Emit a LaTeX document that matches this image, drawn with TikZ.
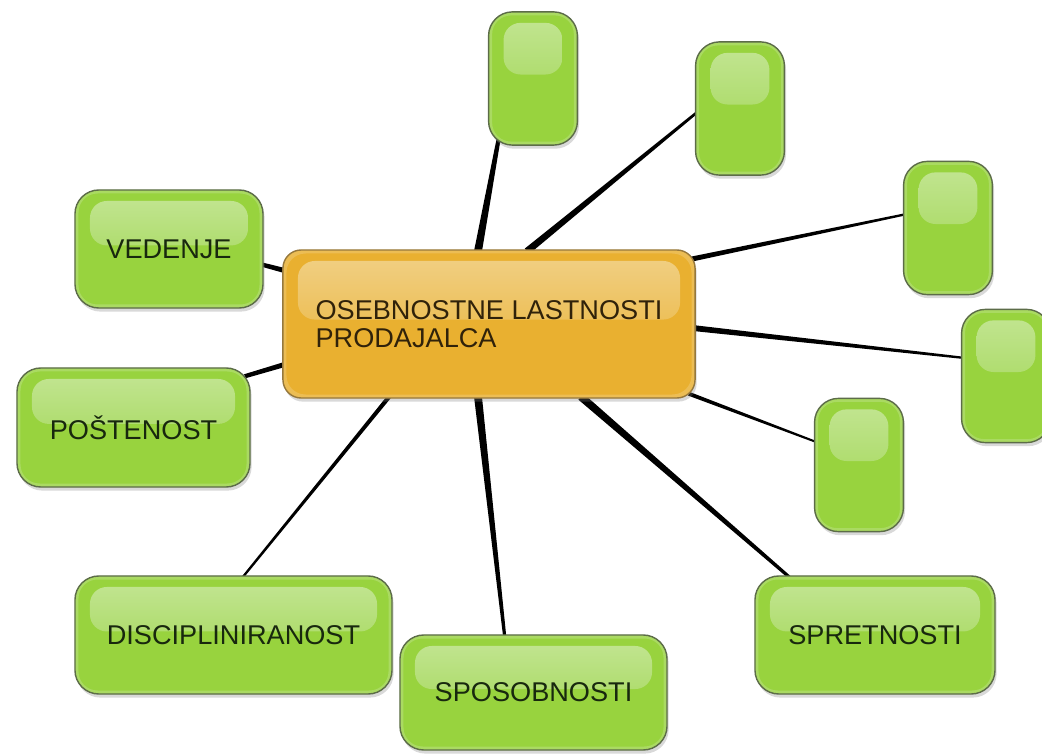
\documentclass[tikz,border=0pt]{standalone}
\usepackage{fontspec}
\setmainfont{Liberation Sans}
\usetikzlibrary{calc,shadows,backgrounds}

\definecolor{leafgreen}{RGB}{152,211,62}
\definecolor{leafshine}{RGB}{192,228,142}
\definecolor{leafshinelow}{RGB}{176,221,112}
\definecolor{leafedge}{RGB}{92,108,72}
\definecolor{coreorange}{RGB}{233,176,48}
\definecolor{coreshine}{RGB}{240,206,128}
\definecolor{coreshinelow}{RGB}{237,192,90}
\definecolor{coreedge}{RGB}{150,120,60}
\definecolor{labeltext}{RGB}{24,40,14}
\definecolor{coretext}{RGB}{48,34,10}

\tikzset{
  shine/.style 2 args={path picture={
      \draw[#1, line width=5pt, opacity=.45, rounded corners=16pt]
        (path picture bounding box.north west) rectangle (path picture bounding box.south east);
      \shade[top color=#1, bottom color=#2, rounded corners=12pt]
        ($(path picture bounding box.north west)+(15,11)$) rectangle
        ($(path picture bounding box.south east)!0.53!(path picture bounding box.north east)+(-15,0)$);}},
  box/.style={draw=leafedge, line width=1pt, fill=leafgreen, rounded corners=17pt,
      inner sep=0pt, text=labeltext, font=\fontsize{19.3}{20}\selectfont,
      drop shadow={opacity=.3, shadow xshift=.4mm, shadow yshift=-.9mm},
      shine={leafshine}{leafshinelow}},
  blank/.style={box, minimum width=2.22cm, minimum height=3.33cm},
  corebox/.style={box, draw=coreedge, fill=coreorange, rounded corners=13pt,
      text=coretext, shine={coreshine}{coreshinelow}}
}

\begin{document}
\begin{tikzpicture}[x=0.025cm, y=-0.025cm]
\useasboundingbox (0,0) rectangle (1042,755);

% middle box
\node[corebox, minimum width=10.3cm, minimum height=3.7cm, align=left] (core) at (489,324)
    {OSEBNOSTNE LASTNOSTI\\PRODAJALCA};

% named boxes
\node[box, minimum width=4.7cm, minimum height=2.95cm] (vedenje) at (169,249) {VEDENJE};
\node[box, minimum width=5.825cm, minimum height=2.975cm] (postenost) at (133.5,427.5) {POŠTENOST};
\node[box, minimum width=7.925cm, minimum height=2.95cm] (discipl) at (233.5,635) {DISCIPLINIRANOST};
\node[box, minimum width=6.675cm, minimum height=2.875cm] (sposob) at (533.5,692.5) {SPOSOBNOSTI};
\node[box, minimum width=6cm, minimum height=2.95cm] (spretn) at (875,635) {SPRETNOSTI};

% empty boxes
\node[blank] (e1) at (533,78.5) {};
\node[blank] (e2) at (740,108.5) {};
\node[blank] (e3) at (948,228) {};
\node[blank] (e4) at (1006,376) {};
\node[blank] (e5) at (859,465) {};

% spoke ends
\coordinate (s1) at ($(core.north)+(-11,2)$);   \coordinate (t1) at ($(e1.south)+(-34,-9)$);
\coordinate (s2) at ($(core.north)+(38,2)$);    \coordinate (t2) at ($(e2.west)+(5,1.5)$);
\coordinate (s3) at ($(core.north east)+(-5,10)$); \coordinate (t3) at ($(e3.west)+(4,-14)$);
\coordinate (s4) at ($(core.east)+(-3,4)$);     \coordinate (t4) at ($(e4.west)+(4,-18)$);
\coordinate (s5) at ($(core.south east)+(-7,-5)$); \coordinate (t5) at ($(e5.west)+(5,-22)$);
\coordinate (s6) at ($(core.south)+(92,-2)$);   \coordinate (t6) at ($(spretn.north)+(-82,5)$);
\coordinate (s7) at ($(core.south)+(-11,-2)$);  \coordinate (t7) at ($(sposob.north)+(-28.5,5)$);
\coordinate (s8) at ($(core.south)+(-99,-3)$);  \coordinate (t8) at ($(discipl.north)+(7.5,4)$);
\coordinate (s9) at ($(core.west)+(4,40)$);     \coordinate (t9) at ($(postenost.north east)+(-6,9)$);
\coordinate (s10) at ($(core.west)+(4,-53)$);   \coordinate (t10) at ($(vedenje.east)+(-4,15)$);

% tapered spokes
\begin{scope}[on background layer]
\foreach \s/\t/\ws/\wt in {s1/t1/2.8pt/1.4pt, s2/t2/2.5pt/0.9pt, s3/t3/1.8pt/0.8pt,
    s4/t4/2.1pt/0.8pt, s5/t5/1.4pt/0.7pt, s6/t6/2.8pt/1.1pt, s7/t7/2.8pt/1.1pt,
    s8/t8/1.5pt/0.8pt, s9/t9/1.8pt/1.5pt, s10/t10/1.8pt/1.5pt}
  \fill[black] ($(\s)!\ws!90:(\t)$) -- ($(\t)!\wt!-90:(\s)$) -- ($(\t)!\wt!90:(\s)$) -- ($(\s)!\ws!-90:(\t)$) -- cycle;
\end{scope}
\end{tikzpicture}
\end{document}
